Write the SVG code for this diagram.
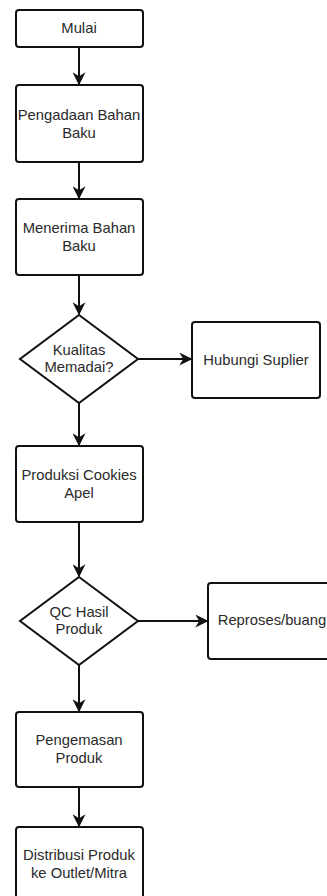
<svg xmlns="http://www.w3.org/2000/svg" width="327" height="896" viewBox="0 0 327 896">
<style>
.n{fill:#fff;stroke:#111;stroke-width:2}
.t{font-family:"Liberation Sans",Arial,sans-serif;font-size:14.8px;fill:#2a2a2a;text-anchor:middle}
.c{fill:none;stroke:#111;stroke-width:2;marker-end:url(#ah)}
</style>
<defs>
<marker id="ah" viewBox="0 0 10 10" refX="9" refY="5" markerWidth="6.5" markerHeight="6.5" orient="auto" markerUnits="strokeWidth">
<path d="M0,0 L10,5 L0,10 L3,5 z" fill="#111"/>
</marker>
</defs>
<g id="connectors">
<line class="c" x1="79" y1="47" x2="79" y2="84"/>
<line class="c" x1="79" y1="162" x2="79" y2="198"/>
<line class="c" x1="79" y1="275" x2="79" y2="314"/>
<line class="c" x1="138" y1="359" x2="191" y2="359"/>
<line class="c" x1="79" y1="403" x2="79" y2="445"/>
<line class="c" x1="79" y1="522" x2="79" y2="576"/>
<line class="c" x1="138" y1="621" x2="207" y2="621"/>
<line class="c" x1="79" y1="665" x2="79" y2="711"/>
<line class="c" x1="79" y1="787" x2="79" y2="826"/>
</g>
<g id="mulai"><rect class="n" x="16" y="10" width="127" height="37" rx="3"/><text class="t" x="79" y="33">Mulai</text></g>
<g id="pengadaan"><rect class="n" x="16" y="85" width="127" height="77" rx="3"/><text class="t" x="79" y="120">Pengadaan Bahan</text><text class="t" x="79" y="138">Baku</text></g>
<g id="menerima"><rect class="n" x="16" y="199" width="127" height="76" rx="3"/><text class="t" x="79" y="233">Menerima Bahan</text><text class="t" x="79" y="251">Baku</text></g>
<g id="kualitas"><polygon class="n" points="79,315 138,359 79,403 20,359"/><text class="t" x="79" y="355">Kualitas</text><text class="t" x="79" y="372">Memadai?</text></g>
<g id="hubungi"><rect class="n" x="192" y="322" width="128" height="76" rx="3"/><text class="t" x="256" y="365">Hubungi Suplier</text></g>
<g id="produksi"><rect class="n" x="16" y="446" width="127" height="76" rx="3"/><text class="t" x="79" y="480">Produksi Cookies</text><text class="t" x="79" y="498">Apel</text></g>
<g id="qc"><polygon class="n" points="79,577 138,621 79,665 20,621"/><text class="t" x="79" y="617">QC Hasil</text><text class="t" x="79" y="634">Produk</text></g>
<g id="reproses"><rect class="n" x="208" y="583" width="128" height="76" rx="3"/><text class="t" x="272" y="625">Reproses/buang</text></g>
<g id="pengemasan"><rect class="n" x="16" y="712" width="127" height="75" rx="3"/><text class="t" x="79" y="745">Pengemasan</text><text class="t" x="79" y="763">Produk</text></g>
<g id="distribusi"><rect class="n" x="16" y="827" width="127" height="76" rx="3"/><text class="t" x="79" y="860">Distribusi Produk</text><text class="t" x="79" y="878">ke Outlet/Mitra</text></g>
</svg>
